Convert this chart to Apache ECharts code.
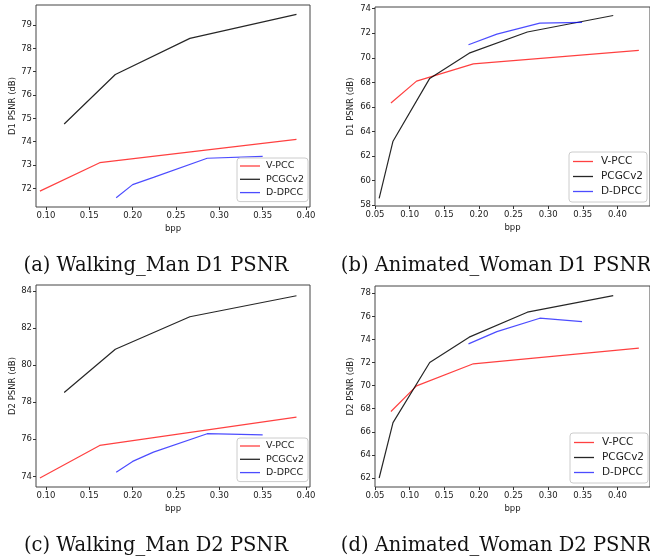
<!DOCTYPE html>
<html>
<head>
<meta charset="utf-8">
<script src="https://cdn.jsdelivr.net/npm/echarts@6/dist/echarts.min.js"></script>
<style>
  html, body { margin: 0; padding: 0; background: #fff; }
  #chart { width: 650px; height: 560px; }
</style>
</head>
<body>
<div id="chart"></div>
<script>
// bpp per codec, Walking_Man
var wmBppVpcc = [0.093, 0.162, 0.389];
var wmBppPcgc = [0.121, 0.180, 0.266, 0.389];
var wmBppDdpcc = [0.181, 0.200, 0.224, 0.286, 0.350];
// bpp per codec, Animated_Woman
var awBppVpcc = [0.073, 0.110, 0.192, 0.431];
var awBppPcgc = [0.056, 0.076, 0.129, 0.186, 0.270, 0.394];
var awBppDdpcc = [0.185, 0.226, 0.288, 0.349];

// (a) Walking_Man D1
var wmD1Vpcc = [71.88, 73.10, 74.10];
var wmD1Pcgc = [74.76, 76.88, 78.43, 79.46];
var wmD1Ddpcc = [71.60, 72.16, 72.47, 73.29, 73.37];
// (b) Animated_Woman D1
var awD1Vpcc = [66.32, 68.10, 69.51, 70.60];
var awD1Pcgc = [58.55, 63.20, 68.32, 70.38, 72.10, 73.45];
var awD1Ddpcc = [71.06, 71.93, 72.83, 72.88];
// (c) Walking_Man D2
var wmD2Vpcc = [73.91, 75.67, 77.19];
var wmD2Pcgc = [78.52, 80.85, 82.60, 83.73];
var wmD2Ddpcc = [74.22, 74.81, 75.31, 76.30, 76.24];
// (d) Animated_Woman D2
var awD2Vpcc = [67.76, 69.98, 71.89, 73.25];
var awD2Pcgc = [62.00, 66.80, 72.00, 74.20, 76.36, 77.80];
var awD2Ddpcc = [73.62, 74.68, 75.84, 75.55];

// tick labels
var wmXTicks = [0.10, 0.15, 0.20, 0.25, 0.30, 0.35, 0.40];
var awXTicks = [0.05, 0.10, 0.15, 0.20, 0.25, 0.30, 0.35, 0.40];
var wmD1YTicks = [72, 73, 74, 75, 76, 77, 78, 79];
var awD1YTicks = [58, 60, 62, 64, 66, 68, 70, 72, 74];
var wmD2YTicks = [74, 76, 78, 80, 82, 84];
var awD2YTicks = [62, 64, 66, 68, 70, 72, 74, 76, 78];

var names = ['V-PCC', 'PCGCv2', 'D-DPCC'];
var colors = ['rgba(255,0,0,0.75)', 'rgba(0,0,0,0.85)', 'rgba(0,0,255,0.7)'];
var captions = ['(a) Walking_Man D1 PSNR', '(b) Animated_Woman D1 PSNR',
                '(c) Walking_Man D2 PSNR', '(d) Animated_Woman D2 PSNR'];

var font = 'DejaVu Sans';

function pairs(xs, ys) {
  return xs.map(function (x, i) { return [x, ys[i]]; });
}

var grids = [
  { left: 36, top: 5, width: 274, height: 202 },
  { left: 375, top: 7, width: 278, height: 199 },
  { left: 36, top: 285, width: 274, height: 202 },
  { left: 375, top: 286, width: 278, height: 201 }
];
grids.forEach(function (g) {
  g.show = true;
  g.borderColor = '#444';
  g.borderWidth = 1;
  g.backgroundColor = '#fff';
});

function xAxis(i, min, max, ticks, fs) {
  return {
    type: 'value', gridIndex: i, min: min, max: max,
    name: 'bpp', nameLocation: 'middle', nameGap: 17,
    nameTextStyle: { fontFamily: font, fontSize: fs, color: '#222' },
    axisLine: { show: false },
    axisTick: { show: true, length: 3, customValues: ticks, lineStyle: { color: '#333' } },
    axisLabel: {
      customValues: ticks, fontFamily: font, fontSize: fs, color: '#222', margin: 4,
      formatter: function (v) { return v.toFixed(2); }
    },
    splitLine: { show: false }
  };
}
function yAxis(i, min, max, ticks, label, gap, fs) {
  return {
    type: 'value', gridIndex: i, min: min, max: max,
    name: label, nameLocation: 'middle', nameGap: gap, nameRotate: 90,
    nameTextStyle: { fontFamily: font, fontSize: fs, color: '#222' },
    axisLine: { show: false },
    axisTick: { show: true, length: 3, customValues: ticks, lineStyle: { color: '#333' } },
    axisLabel: { customValues: ticks, fontFamily: font, fontSize: fs, color: '#222', margin: 4 },
    splitLine: { show: false }
  };
}

var panels = [
  [[wmBppVpcc, wmD1Vpcc], [wmBppPcgc, wmD1Pcgc], [wmBppDdpcc, wmD1Ddpcc]],
  [[awBppVpcc, awD1Vpcc], [awBppPcgc, awD1Pcgc], [awBppDdpcc, awD1Ddpcc]],
  [[wmBppVpcc, wmD2Vpcc], [wmBppPcgc, wmD2Pcgc], [wmBppDdpcc, wmD2Ddpcc]],
  [[awBppVpcc, awD2Vpcc], [awBppPcgc, awD2Pcgc], [awBppDdpcc, awD2Ddpcc]]
];

var series = [];
panels.forEach(function (p, i) {
  p.forEach(function (s, k) {
    series.push({
      type: 'line', name: names[k], xAxisIndex: i, yAxisIndex: i,
      data: pairs(s[0], s[1]), symbol: 'none', silent: true,
      lineStyle: { color: colors[k], width: 1.2 },
      itemStyle: { color: colors[k] }
    });
  });
});

// thin horizontal bar as the legend's line sample
var lineIcon = 'path://M0,0H20V1.3H0Z';

function legend(left, top, fs, lh, gap, pad, textPad) {
  return {
    orient: 'vertical', left: left, top: top, data: names,
    icon: lineIcon, itemWidth: 20, itemHeight: 1.3, itemGap: gap,
    padding: pad, backgroundColor: 'rgba(255,255,255,0.8)',
    borderColor: '#ccc', borderWidth: 1, borderRadius: 3,
    textStyle: { fontFamily: font, fontSize: fs, lineHeight: lh, color: '#222', padding: [0, 0, 0, textPad] },
    selectedMode: false
  };
}

var captionPos = [[156, 266], [496, 266], [156, 546], [496, 546]];

var option = {
  animation: false,
  grid: grids,
  xAxis: [
    xAxis(0, 0.0885, 0.4046, wmXTicks, 8.5),
    xAxis(1, 0.05, 0.4471, awXTicks, 8.5),
    xAxis(2, 0.0885, 0.4046, wmXTicks, 8.5),
    xAxis(3, 0.05, 0.4471, awXTicks, 8.5)
  ],
  yAxis: [
    yAxis(0, 71.2, 79.86, wmD1YTicks, 'D1 PSNR (dB)', 19, 8.5),
    yAxis(1, 57.92, 74.14, awD1YTicks, 'D1 PSNR (dB)', 20, 8.5),
    yAxis(2, 73.43, 84.31, wmD2YTicks, 'D2 PSNR (dB)', 19, 8.5),
    yAxis(3, 61.22, 78.63, awD2YTicks, 'D2 PSNR (dB)', 20, 8.5)
  ],
  legend: [
    legend(237, 158, 9.5, 10, 3.3, [3, 4, 4, 3], 1),
    legend(569, 152, 10.5, 11, 4, [4, 4, 5, 4], 3),
    legend(237, 438, 9.5, 10, 3.3, [3, 4, 4, 3], 1),
    legend(570, 433, 10.5, 11, 4, [4, 4, 5, 4], 3)
  ],
  series: series,
  graphic: captions.map(function (c, i) {
    return {
      type: 'text', x: captionPos[i][0], y: captionPos[i][1],
      style: {
        text: c, fill: '#111', font: '19.5px "DejaVu Serif"',
        textAlign: 'center', textVerticalAlign: 'middle'
      }
    };
  })
};

var chart = echarts.init(document.getElementById('chart'));
chart.setOption(option);
</script>
</body>
</html>
